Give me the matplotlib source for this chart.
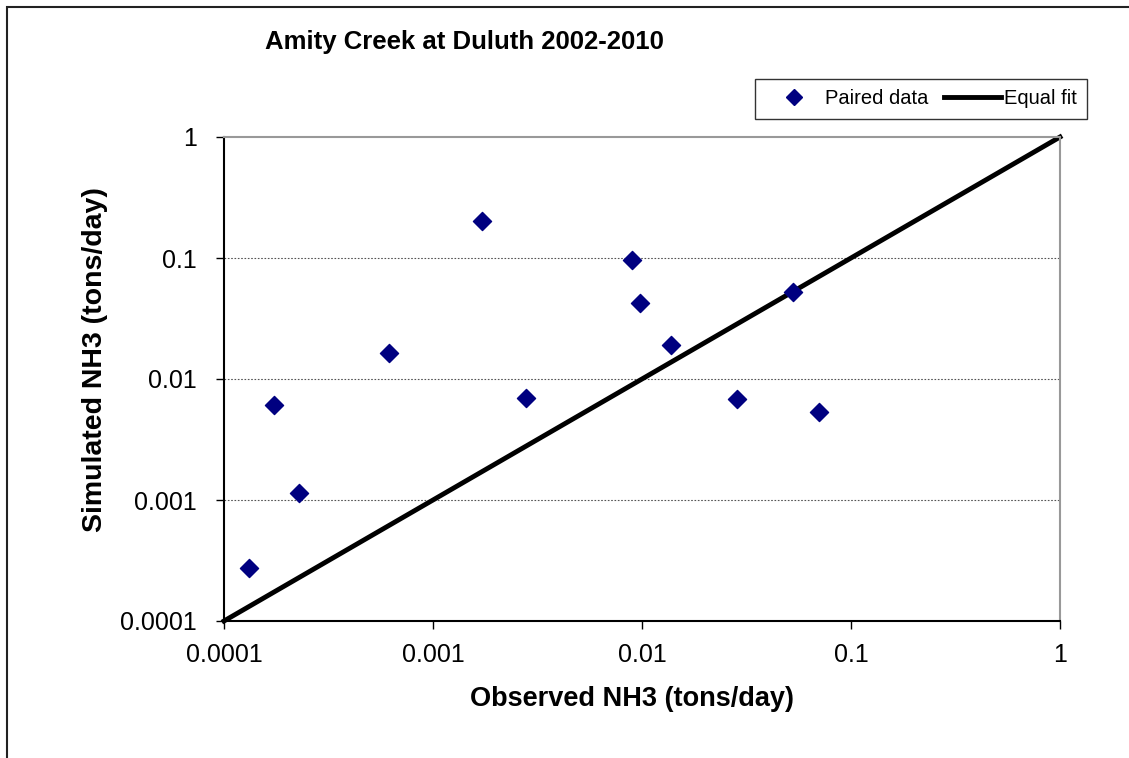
import numpy as np
import matplotlib.pyplot as plt
from matplotlib.lines import Line2D
from matplotlib.patches import Rectangle

plt.rcParams['font.family'] = ['Liberation Sans', 'DejaVu Sans']

# paired observed / simulated NH3 loads (tons/day)
observed = [1.32e-4, 1.73e-4, 2.29e-4, 6.15e-4, 1.71e-3, 2.79e-3,
            8.95e-3, 9.77e-3, 0.0138, 0.0285, 0.0527, 0.0703]
simulated = [2.74e-4, 6.1e-3, 1.14e-3, 0.0164, 0.202, 6.97e-3,
             0.096, 0.0425, 0.0191, 6.84e-3, 0.0524, 5.33e-3]
fit_x = [0.0001, 1]
fit_y = [0.0001, 1]
ticks = [0.0001, 0.001, 0.01, 0.1, 1]
tick_labels = ['0.0001', '0.001', '0.01', '0.1', '1']

fig = plt.figure(figsize=(11.29, 7.58), dpi=100)
ax = fig.add_axes([224/1129, 1 - 621/758, (1060-224)/1129, (621-137)/758])

# outer chart border (left and top edges visible)
fig.add_artist(Rectangle((7/1129, -0.01), 1.05, 1 - 7/758 + 0.01, transform=fig.transFigure,
                         fill=False, edgecolor='#222222', linewidth=1.5))

ax.set_xscale('log')
ax.set_yscale('log')
ax.set_xlim(0.0001, 1)
ax.set_ylim(0.0001, 1)

for t in ticks[1:-1]:
    ax.axhline(t, color='#555555', linestyle=(0, (1.5, 1.5)), linewidth=0.8, zorder=1)

ax.plot(fit_x, fit_y, color='black', linewidth=3.5, zorder=2, clip_on=False)
ax.scatter(observed, simulated, marker='D', s=85, color='#000080', zorder=3)

ax.set_xticks(ticks)
ax.set_xticklabels(tick_labels)
ax.set_yticks(ticks)
ax.set_yticklabels(tick_labels)
ax.minorticks_off()
ax.tick_params(axis='both', labelsize=18, length=5.5, width=1, direction='out', colors='black')
ax.xaxis.set_tick_params(pad=10)
ax.yaxis.set_tick_params(pad=14)

ax.spines['left'].set_color('black')
ax.spines['bottom'].set_color('black')
ax.spines['top'].set_color('#999999')
ax.spines['right'].set_color('#999999')
for s in ax.spines.values():
    s.set_linewidth(1.5)

ax.set_xlabel('Observed NH3 (tons/day)', fontsize=19.5, fontweight='bold', va='center')
ax.set_ylabel('Simulated NH3 (tons/day)', fontsize=20.5, fontweight='bold', va='center')
ax.xaxis.set_label_coords((631.5 - 224) / 836, (621 - 699) / 484)
ax.yaxis.set_label_coords((95 - 224) / 836, (621 - 360) / 484)

fig.text(265/1129, 1 - 42/758, 'Amity Creek at Duluth 2002-2010', fontsize=18.5,
         fontweight='bold', va='center', ha='left')

handles = [Line2D([], [], marker='D', linestyle='none', color='#000080', markersize=8),
           Line2D([], [], color='black', linewidth=3.5)]
leg = fig.legend(handles, ['Paired data', 'Equal fit'], loc='center',
                 bbox_to_anchor=(921/1129, 1 - 99/758), ncol=2, fontsize=14.5,
                 frameon=True, fancybox=False, edgecolor='black', borderpad=0.5,
                 handlelength=2.8, columnspacing=0.8, handletextpad=0.15)
leg.get_frame().set_linewidth(1.0)

fig.savefig('out.png', dpi=100)
